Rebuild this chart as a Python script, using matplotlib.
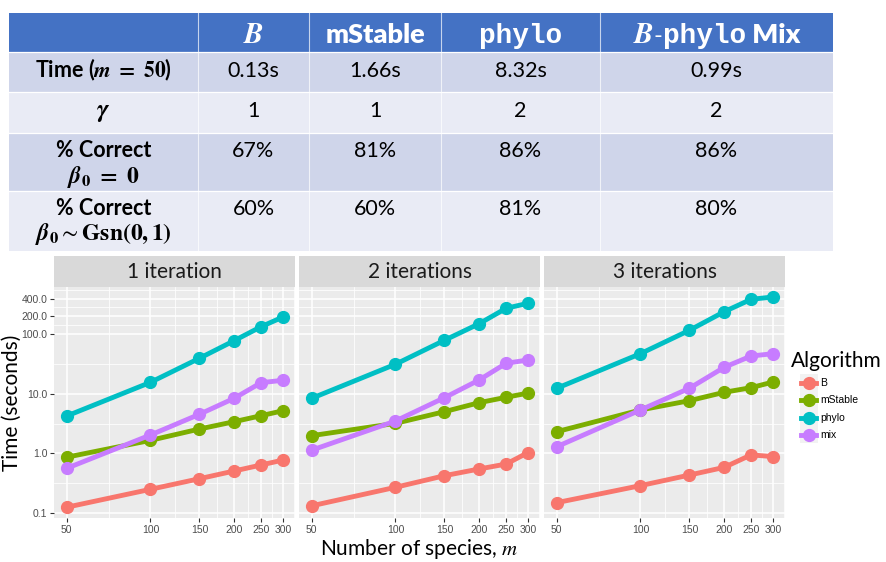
import matplotlib
matplotlib.use("Agg")
import matplotlib.pyplot as plt
import matplotlib.ticker as mticker
from matplotlib.patches import Rectangle
from matplotlib.lines import Line2D
import numpy as np

plt.rcParams["mathtext.fontset"] = "stix"
plt.rcParams["font.family"] = ["Lato", "DejaVu Sans"]

# ---------------------------------------------------------------- data
species = [50, 100, 150, 200, 250, 300]
iterations = ["1 iteration", "2 iterations", "3 iterations"]
algorithms = ["B", "mStable", "phylo", "mix"]
colors = ["#F8766D", "#7CAE00", "#00BFC4", "#C77CFF"]

# run time in seconds, one row per number of iterations
time_B = [
    [0.124, 0.248, 0.374, 0.504, 0.636, 0.771],
    [0.131, 0.268, 0.420, 0.545, 0.660, 1.03],
    [0.148, 0.286, 0.431, 0.580, 0.940, 0.88],
]
time_mStable = [
    [0.86, 1.65, 2.56, 3.40, 4.29, 5.20],
    [1.98, 3.19, 5.01, 7.10, 8.74, 10.3],
    [2.31, 5.35, 7.67, 10.6, 12.7, 15.8],
]
time_phylo = [
    [4.24, 15.6, 39.6, 78.2, 134.5, 196.0],
    [8.41, 31.4, 79.4, 151.0, 274.0, 333.0],
    [12.4, 47.3, 117.0, 240.0, 388.0, 425.0],
]
time_mix = [
    [0.56, 2.03, 4.53, 8.41, 15.4, 16.9],
    [1.13, 3.49, 8.60, 17.1, 32.6, 37.1],
    [1.29, 5.35, 12.4, 27.9, 43.2, 47.3],
]
y_breaks = [0.1, 1, 10, 100, 200, 400]

# summary table: each row label may have a second (math) line
row_labels = [
    [r"Time ($\boldsymbol{m}\ \mathbf{=}\ \mathbf{50}$)"],
    [r"$\boldsymbol{\gamma}$"],
    ["% Correct", r"$\boldsymbol{\beta}_\mathbf{0}\ \mathbf{=}\ \mathbf{0}$"],
    ["% Correct", r"$\boldsymbol{\beta}_\mathbf{0}{\sim}\mathbf{Gsn(0,1)}$"],
]
row_values = [
    ["0.13s", "1.66s", "8.32s", "0.99s"],
    ["1", "1", "2", "2"],
    ["67%", "81%", "86%", "86%"],
    ["60%", "60%", "81%", "80%"],
]

# ---------------------------------------------------------------- figure
W, H = 886, 562
fig = plt.figure(figsize=(W / 100, H / 100), dpi=100)
fig.patch.set_facecolor("white")

over = fig.add_axes([0, 0, 1, 1])
over.set_xlim(0, W)
over.set_ylim(H, 0)
over.axis("off")
renderer = fig.canvas.get_renderer()

# ---------------------------------------------------------------- table
col_edges = [9, 198, 309, 441, 600, 833]
row_edges = [13, 52, 92, 133, 191, 251]
header_bg = "#4472C4"
band_bg = ["#CFD5EA", "#E9EBF5", "#CFD5EA", "#E9EBF5"]

over.add_patch(Rectangle((col_edges[0], row_edges[0]), col_edges[-1] - col_edges[0],
                         row_edges[1] - row_edges[0], facecolor=header_bg, lw=0))
for r in range(4):
    over.add_patch(Rectangle((col_edges[0], row_edges[r + 1]), col_edges[-1] - col_edges[0],
                             row_edges[r + 2] - row_edges[r + 1], facecolor=band_bg[r], lw=0))
for x in col_edges[1:-1]:
    over.plot([x, x], [row_edges[0], row_edges[-1]], color="white", lw=0.8, alpha=0.7)
for y in row_edges[1:-1]:
    over.plot([col_edges[0], col_edges[-1]], [y, y], color="white", lw=0.9)


def centered_pieces(xc, y, pieces):
    texts = [over.text(0, y, s, ha="left", va="baseline", **kw) for s, kw in pieces]
    widths = [t.get_window_extent(renderer).width for t in texts]
    x = xc - sum(widths) / 2
    for t, w in zip(texts, widths):
        t.set_x(x)
        x += w


centers = [(col_edges[i] + col_edges[i + 1]) / 2 for i in range(5)]
hdr = dict(color="white", fontsize=19.5, fontweight="heavy")
mono = dict(color="white", fontsize=20, fontweight="bold", family="Liberation Mono")
ital = dict(color="white", fontsize=21)
head_base = 43
centered_pieces(centers[1], head_base, [(r"$\boldsymbol{B}$", ital)])
centered_pieces(centers[2], head_base, [("mStable", hdr)])
centered_pieces(centers[3], head_base, [("phylo", mono)])
centered_pieces(centers[4], head_base, [
    (r"$\boldsymbol{B}$", ital),
    ("-", dict(color="white", fontsize=17)),
    ("phylo", mono),
    (" Mix", hdr),
])

line1_base = [77, 117, 157, 215]
line2_base = [None, None, 183, 240]
label_size = [15.5, 19, 15.5, 15.5]
for r in range(4):
    over.text(centers[0], line1_base[r], row_labels[r][0], ha="center", va="baseline",
              fontsize=label_size[r], fontweight="bold", color="black")
    if len(row_labels[r]) > 1:
        over.text(centers[0], line2_base[r], row_labels[r][1], ha="center", va="baseline",
                  fontsize=17, color="black")
    for c in range(4):
        over.text(centers[c + 1], line1_base[r], row_values[r][c], ha="center", va="baseline",
                  fontsize=15.5, color="black")

# ---------------------------------------------------------------- facets
panel_left = [54.3, 299.3, 544.3]
panel_w = 240.7
panel_top, panel_bottom, strip_top = 287, 518, 256
series = [time_B, time_mStable, time_phylo, time_mix]

x_minor = [np.sqrt(a * b) for a, b in zip(species[:-1], species[1:])] + [300 * np.sqrt(300 / 250)]
y_minor = [np.sqrt(a * b) for a, b in zip(y_breaks[:-1], y_breaks[1:])] + [400 * np.sqrt(2)]

for i in range(3):
    ax = fig.add_axes([panel_left[i] / W, 1 - panel_bottom / H, panel_w / W,
                       (panel_bottom - panel_top) / H])
    ax.set_facecolor("#EBEBEB")
    ax.set_xscale("log")
    ax.set_yscale("log")
    for vals, c in zip(series, colors):
        ax.plot(species, vals[i], color=c, lw=3.5, marker="o", ms=8.5,
                solid_capstyle="round", zorder=3)
    ax.set_xlim(45.1, 331)
    ax.set_ylim(0.0817, 625)
    ax.xaxis.set_major_locator(mticker.FixedLocator(species))
    ax.xaxis.set_major_formatter(mticker.FixedFormatter([str(s) for s in species]))
    ax.xaxis.set_minor_locator(mticker.FixedLocator(x_minor))
    ax.xaxis.set_minor_formatter(mticker.NullFormatter())
    ax.yaxis.set_major_locator(mticker.FixedLocator(y_breaks))
    ax.yaxis.set_major_formatter(mticker.FixedFormatter([f"{v:.1f}" for v in y_breaks]))
    ax.yaxis.set_minor_locator(mticker.FixedLocator(y_minor))
    ax.yaxis.set_minor_formatter(mticker.NullFormatter())
    ax.grid(which="major", color="white", lw=1.1)
    ax.grid(which="minor", color="white", lw=0.55)
    ax.set_axisbelow(True)
    for s in ax.spines.values():
        s.set_visible(False)
    ax.tick_params(which="minor", length=0)
    ax.tick_params(which="major", length=3, width=0.8, color="#333333",
                   labelsize=7.5, labelcolor="#4D4D4D", pad=2)
    for lab in ax.get_xticklabels() + ax.get_yticklabels():
        lab.set_family("Liberation Sans")
    if i > 0:
        ax.tick_params(axis="y", left=False, labelleft=False)

    strip = fig.add_axes([panel_left[i] / W, 1 - panel_top / H, panel_w / W,
                          (panel_top - strip_top) / H])
    strip.set_facecolor("#D9D9D9")
    strip.set_xticks([])
    strip.set_yticks([])
    for s in strip.spines.values():
        s.set_visible(False)
    strip.text(0.5, 0.47, iterations[i], ha="center", va="center", fontsize=15,
               color="#1A1A1A", transform=strip.transAxes)

# axis titles
over.text(12, (panel_top + panel_bottom) / 2, "Time (seconds)", rotation=90,
          ha="center", va="center", fontsize=15, color="black")
over.text((panel_left[0] + panel_left[2] + panel_w) / 2, 555, r"Number of species, $m$",
          ha="center", va="baseline", fontsize=15, color="black")

# legend
over.text(791, 361, "Algorithm", ha="left", va="center", fontsize=15, color="black")
for k, (name, c) in enumerate(zip(algorithms, colors)):
    yc = 383 + 17.3 * k
    over.add_patch(Rectangle((800.5, yc - 8.6), 17.2, 17.2, facecolor="#F2F2F2", lw=0))
    over.add_line(Line2D([801.5, 816.5], [yc, yc], color=c, lw=3.5))
    over.add_line(Line2D([809], [yc], color=c, marker="o", ms=8.5, lw=0))
    over.text(820.5, yc, name, ha="left", va="center", fontsize=7.5,
              family="Liberation Sans", color="black")

fig.savefig("out.png", dpi=100)
